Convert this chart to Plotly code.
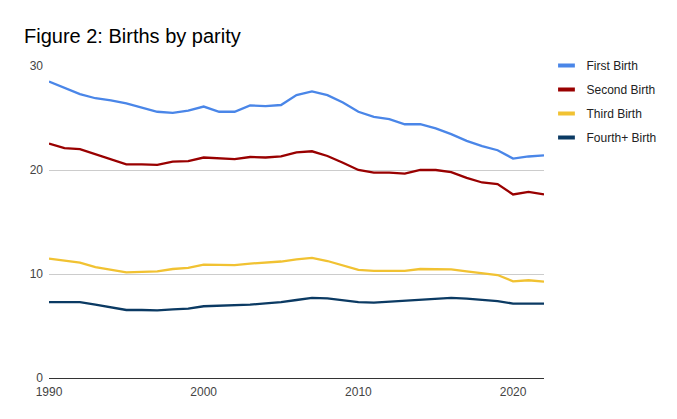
import plotly.graph_objects as go

years = list(range(1990, 2023))
first_birth = [28.5, 27.9, 27.3, 26.9, 26.7, 26.4, 26.0, 25.6, 25.5, 25.7,
               26.1, 25.6, 25.6, 26.2, 26.15, 26.25, 27.2, 27.55, 27.2, 26.5,
               25.6, 25.1, 24.9, 24.4, 24.4, 24.0, 23.45, 22.8, 22.3, 21.9,
               21.1, 21.3, 21.4]
second_birth = [22.55, 22.1, 22.0, 21.5, 21.0, 20.55, 20.55, 20.5, 20.8, 20.85,
                21.2, 21.1, 21.05, 21.25, 21.2, 21.3, 21.7, 21.8, 21.35, 20.7,
                20.0, 19.75, 19.75, 19.65, 20.0, 20.0, 19.8, 19.25, 18.8, 18.65,
                17.65, 17.9, 17.65]
third_birth = [11.47, 11.25, 11.1, 10.67, 10.4, 10.15, 10.2, 10.25, 10.48, 10.58,
               10.9, 10.85, 10.85, 11.0, 11.1, 11.2, 11.4, 11.55, 11.25, 10.83,
               10.4, 10.3, 10.3, 10.3, 10.48, 10.5, 10.45, 10.25, 10.1, 9.9,
               9.3, 9.4, 9.26]
fourth_birth = [7.3, 7.3, 7.3, 7.05, 6.8, 6.54, 6.54, 6.5, 6.6, 6.67,
                6.9, 6.93, 6.96, 7.05, 7.18, 7.3, 7.5, 7.7, 7.65, 7.5,
                7.3, 7.24, 7.34, 7.4, 7.56, 7.66, 7.7, 7.63, 7.5, 7.4,
                7.15, 7.15, 7.15]

series = [
    ("First Birth", first_birth, "#4a86e8"),
    ("Second Birth", second_birth, "#990000"),
    ("Third Birth", third_birth, "#f1c232"),
    ("Fourth+ Birth", fourth_birth, "#0b3a63"),
]

fig = go.Figure()
for name, vals, col in series:
    fig.add_trace(go.Scatter(x=years, y=vals, mode="lines", name=name,
                             legendgroup=name, showlegend=False,
                             line=dict(color=col, width=2.3)))
# legend entries with a short thick bar, like the reference
for name, vals, col in series:
    fig.add_trace(go.Scatter(x=[None], y=[None], mode="markers", name=name,
                             legendgroup=name, showlegend=True,
                             marker=dict(symbol="line-ew-open", size=12,
                                         color=col,
                                         line=dict(color=col, width=4))))

fig.update_layout(
    width=677, height=419,
    paper_bgcolor="white", plot_bgcolor="white",
    margin=dict(l=41, r=141, t=58, b=49),
    font=dict(family="Liberation Sans, Arial, sans-serif", color="#444444", size=12),
    title=dict(text="Figure 2: Births by parity", x=16/677, xanchor="left",
               y=1 - 28/419, yanchor="middle",
               font=dict(size=20, color="#000000")),
    showlegend=True,
    legend=dict(x=1.005, xanchor="left", y=1.048, yanchor="top",
                itemwidth=30, tracegroupgap=5,
                font=dict(size=12, color="#222222"),
                bgcolor="rgba(0,0,0,0)"),
    xaxis=dict(range=[1990, 2022], tickvals=[1990, 2000, 2010, 2020],
               showgrid=False, zeroline=False, showline=True,
               linecolor="#333333", linewidth=1, ticks="",
               ticklabelstandoff=3,
               tickfont=dict(size=12, color="#444444")),
    yaxis=dict(range=[0, 30], tickvals=[0, 10, 20, 30],
               showgrid=True, gridcolor="#cccccc", gridwidth=1,
               zeroline=False, showline=False, ticks="",
               ticklabelstandoff=5,
               tickfont=dict(size=12, color="#444444")),
)

fig.write_html("out.html")
